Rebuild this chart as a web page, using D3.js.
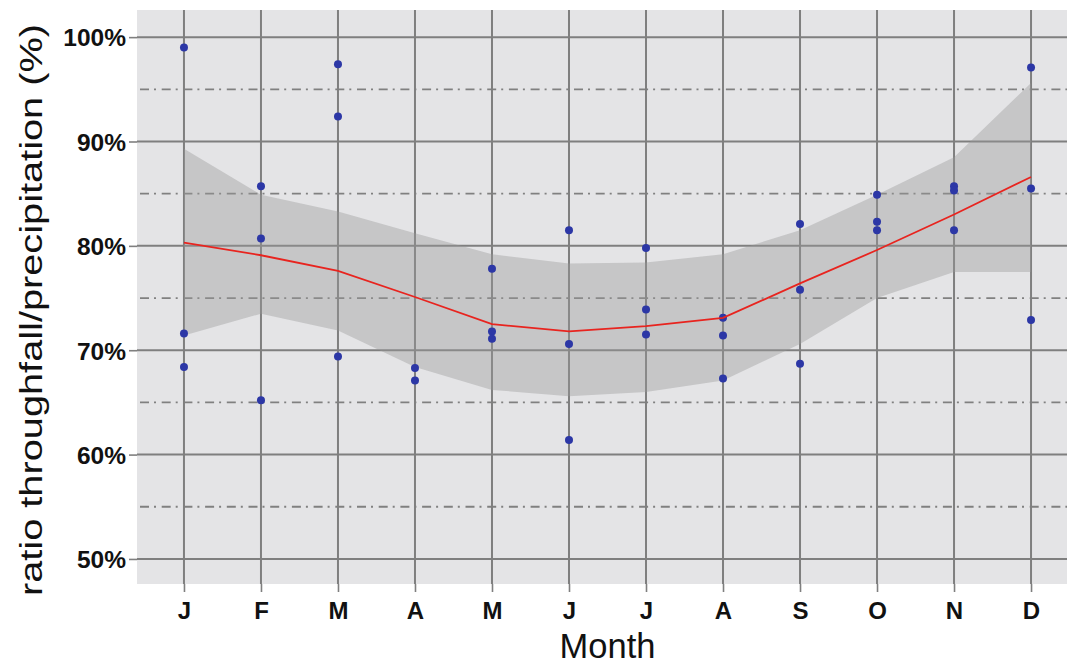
<!DOCTYPE html>
<html>
<head>
<meta charset="utf-8">
<script src="https://cdn.jsdelivr.net/npm/d3@7"></script>
<style>
  html, body { margin: 0; padding: 0; background: #ffffff; }
  svg { display: block; }
</style>
</head>
<body>
<script>
// Month tick labels (positions 1..12)
const monthLabels = ["J", "F", "M", "A", "M", "J", "J", "A", "S", "O", "N", "D"];

// Individual observations: month index and throughfall/precipitation ratio (%)
const obsMonth = [1, 1, 1, 2, 2, 2, 3, 3, 3, 4, 4, 5, 5, 5, 6, 6, 6,
                  7, 7, 7, 8, 8, 8, 9, 9, 9, 10, 10, 10, 11, 11, 11, 12, 12, 12];
const obsRatio = [99.0, 71.6, 68.4, 85.7, 80.7, 65.2, 97.4, 92.4, 69.4, 68.3, 67.1,
                  77.8, 71.8, 71.1, 81.5, 70.6, 61.4, 79.8, 73.9, 71.5, 73.1, 71.4, 67.3,
                  82.1, 75.8, 68.7, 84.9, 82.3, 81.5, 85.7, 85.3, 81.5, 97.1, 85.5, 72.9];

// Smoothed trend with its confidence band, one value per month
const fitMonth = [1, 2, 3, 4, 5, 6, 7, 8, 9, 10, 11, 12];
const fitValue = [80.3, 79.1, 77.6, 75.1, 72.5, 71.8, 72.3, 73.1, 76.4, 79.6, 83.0, 86.6];
const fitUpper = [89.3, 84.9, 83.3, 81.2, 79.2, 78.3, 78.4, 79.2, 81.5, 84.9, 88.5, 95.6];
const fitLower = [71.4, 73.5, 71.9, 68.4, 66.2, 65.6, 66.0, 67.1, 70.6, 75.0, 77.5, 77.5];

// Y axis ticks
const yMajor = [50, 60, 70, 80, 90, 100];
const yMinor = [55, 65, 75, 85, 95];

const W = 1067, H = 664;
const panel = { left: 137, right: 1078, top: 10, bottom: 584 };

const svg = d3.select("body").append("svg")
  .attr("width", W).attr("height", H);

const x = d3.scaleLinear().domain([0.39, 12.61]).range([panel.left, panel.right]);
const y = d3.scaleLinear().domain([47.6, 102.6]).range([panel.bottom, panel.top]);

// panel background
svg.append("rect")
  .attr("x", panel.left).attr("y", panel.top)
  .attr("width", panel.right - panel.left).attr("height", panel.bottom - panel.top)
  .attr("fill", "#e4e4e6");

const grid = svg.append("g");

// minor horizontal grid (dot-dash)
grid.selectAll("line.minor").data(yMinor).join("line")
  .attr("class", "minor")
  .attr("x1", panel.left).attr("x2", panel.right)
  .attr("y1", d => y(d)).attr("y2", d => y(d))
  .attr("stroke", "#808080").attr("stroke-width", 1.8)
  .attr("stroke-dasharray", "9,5,2,5.7")
  .attr("stroke-dashoffset", -3);

// major horizontal grid
grid.selectAll("line.hmajor").data(yMajor).join("line")
  .attr("class", "hmajor")
  .attr("x1", panel.left).attr("x2", panel.right)
  .attr("y1", d => y(d)).attr("y2", d => y(d))
  .attr("stroke", "#7f7f7f").attr("stroke-width", 2);

// major vertical grid
grid.selectAll("line.vmajor").data(fitMonth).join("line")
  .attr("class", "vmajor")
  .attr("x1", d => x(d)).attr("x2", d => x(d))
  .attr("y1", panel.top).attr("y2", panel.bottom)
  .attr("stroke", "#7f7f7f").attr("stroke-width", 2);

// confidence band
const band = fitMonth.map((m, i) => ({ m, lo: fitLower[i], hi: fitUpper[i] }));
svg.append("path")
  .datum(band)
  .attr("d", d3.area().x(d => x(d.m)).y0(d => y(d.lo)).y1(d => y(d.hi)))
  .attr("fill", "#999999").attr("fill-opacity", 0.4);

// observations
svg.append("g").selectAll("circle").data(obsRatio).join("circle")
  .attr("cx", (d, i) => x(obsMonth[i]))
  .attr("cy", d => y(d))
  .attr("r", 4)
  .attr("fill", "#2c37a6");

// trend line
const trend = fitMonth.map((m, i) => ({ m, v: fitValue[i] }));
svg.append("path")
  .datum(trend)
  .attr("d", d3.line().x(d => x(d.m)).y(d => y(d.v)))
  .attr("fill", "none")
  .attr("stroke", "#e8241f").attr("stroke-width", 1.8);

// axes
const yAxis = d3.axisLeft(y).tickValues(yMajor).tickSize(8).tickPadding(3)
  .tickFormat(d => d + "%");
const gy = svg.append("g").attr("transform", `translate(${panel.left},0)`).call(yAxis);
gy.select(".domain").remove();
gy.selectAll(".tick line").attr("stroke", "#7f7f7f").attr("stroke-width", 1.6);
gy.selectAll(".tick text")
  .attr("font-family", "'Liberation Sans', Arial, sans-serif")
  .attr("font-weight", "bold").attr("font-size", 24.5)
  .attr("fill", "#111111").attr("dy", "0.36em");

const xAxis = d3.axisBottom(x).tickValues(fitMonth).tickSize(8).tickPadding(10)
  .tickFormat((d, i) => monthLabels[i]);
const gx = svg.append("g").attr("transform", `translate(0,${panel.bottom})`).call(xAxis);
gx.select(".domain").remove();
gx.selectAll(".tick line").attr("stroke", "#7f7f7f").attr("stroke-width", 1.6);
gx.selectAll(".tick text")
  .attr("font-family", "'Liberation Sans', Arial, sans-serif")
  .attr("font-weight", "bold").attr("font-size", 24)
  .attr("fill", "#111111");

// axis titles
svg.append("text")
  .attr("x", (panel.left + panel.right) / 2).attr("y", 658)
  .attr("text-anchor", "middle")
  .attr("font-family", "'Liberation Sans', Arial, sans-serif")
  .attr("font-size", 34.5).attr("fill", "#111111")
  .text("Month");

svg.append("text")
  .attr("transform", "translate(42,310) rotate(-90)")
  .attr("text-anchor", "middle")
  .attr("font-family", "'Liberation Sans', Arial, sans-serif")
  .attr("font-size", 32).attr("fill", "#111111")
  .attr("textLength", 572).attr("lengthAdjust", "spacingAndGlyphs")
  .text("ratio throughfall/precipitation (%)");
</script>
</body>
</html>
